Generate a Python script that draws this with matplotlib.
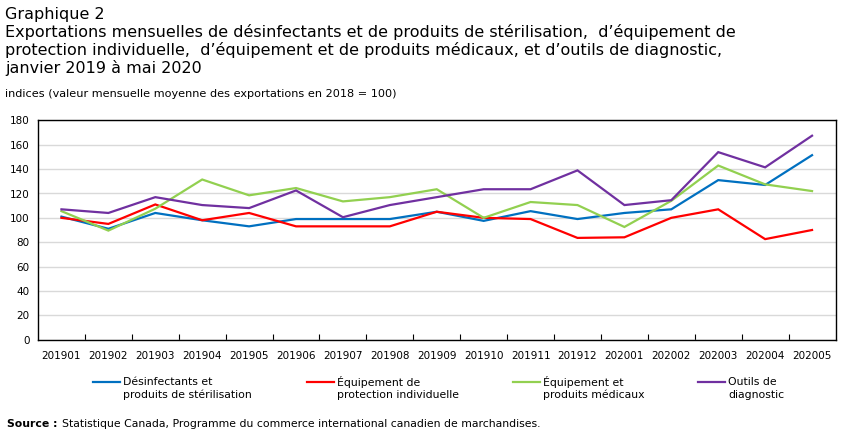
import matplotlib
matplotlib.use("Agg")
import matplotlib.pyplot as plt
from matplotlib.lines import Line2D
import numpy as np

plt.rcParams['font.family'] = ['DejaVu Sans']

months = ["201901", "201902", "201903", "201904", "201905", "201906", "201907", "201908",
          "201909", "201910", "201911", "201912", "202001", "202002", "202003", "202004", "202005"]

desinfectants = [101, 91, 104, 98, 93, 99, 99, 99, 105, 97.5, 105.5, 99, 104, 107, 131, 127, 151.5]
protection = [100, 95, 111, 98, 104, 93, 93, 93, 105, 100, 99, 83.5, 84, 100, 107, 82.5, 90]
medicaux = [105.5, 89.5, 107.5, 131.5, 118.5, 124.5, 113.5, 117, 123.5, 100, 113, 110.5, 92.5, 114, 143, 127.5, 122]
diagnostic = [107, 104, 117, 110.5, 108, 122.5, 100.5, 110.5, 117, 123.5, 123.5, 139, 110.5, 114.5, 154, 141.5, 167.5]

series_labels = ["Désinfectants et\nproduits de stérilisation",
                 "Équipement de\nprotection individuelle",
                 "Équipement et\nproduits médicaux",
                 "Outils de\ndiagnostic"]
colors = ["#0070C0", "#FF0000", "#92D050", "#7030A0"]
yticks = [0, 20, 40, 60, 80, 100, 120, 140, 160, 180]

W, H = 851, 436
fig = plt.figure(figsize=(W / 100, H / 100), dpi=100)
ax = fig.add_axes([38 / W, 1 - 339.5 / H, (835.5 - 38) / W, (339.5 - 120.5) / H])

x = np.arange(len(months))
for vals, c in zip([desinfectants, protection, medicaux, diagnostic], colors):
    ax.plot(x, vals, color=c, lw=1.6, solid_joinstyle='miter')

ax.set_xlim(-0.5, len(months) - 0.5)
ax.set_ylim(0, 180)
ax.set_yticks(yticks)
ax.set_yticklabels([str(v) for v in yticks], fontsize=7.5)
ax.tick_params(axis='y', length=0, pad=6)
ax.set_xticks(x)
ax.set_xticklabels(months, fontsize=7.5)
ax.tick_params(axis='x', which='major', length=0, pad=8)
ax.set_xticks(np.arange(0.5, len(months) - 1, 1), minor=True)
ax.tick_params(axis='x', which='minor', direction='in', length=4, width=0.8, color='black')
ax.grid(axis='y', color='#d9d9d9', lw=1)
ax.set_axisbelow(True)
for s in ax.spines.values():
    s.set_color('black')
    s.set_linewidth(1)

# Title
fig.text(5 / W, 1 - 15 / H, "Graphique 2", fontsize=11.5, va='center', ha='left')
fig.text(5 / W, 1 - 32 / H,
         "Exportations mensuelles de désinfectants et de produits de stérilisation,  d’équipement de",
         fontsize=11.5, va='center', ha='left')
fig.text(5 / W, 1 - 50 / H,
         "protection individuelle,  d’équipement et de produits médicaux, et d’outils de diagnostic,",
         fontsize=11.5, va='center', ha='left')
fig.text(5 / W, 1 - 68 / H, "janvier 2019 à mai 2020", fontsize=11.5, va='center', ha='left')
fig.text(5 / W, 1 - 94 / H, "indices (valeur mensuelle moyenne des exportations en 2018 = 100)",
         fontsize=8.1, va='center', ha='left')

# Legend (manual)
leg_x = [93, 307, 513, 698]
for lx, lab, c in zip(leg_x, series_labels, colors):
    fig.add_artist(Line2D([lx / W, (lx + 27) / W], [1 - 382 / H, 1 - 382 / H], color=c, lw=1.6))
    l1, l2 = lab.split("\n")
    fig.text((lx + 30) / W, 1 - 382 / H, l1, fontsize=7.8, va='center', ha='left')
    fig.text((lx + 30) / W, 1 - 395 / H, l2, fontsize=7.8, va='center', ha='left')

# Source
fig.text(7 / W, 1 - 424 / H, "Source :", fontsize=7.8, fontweight='bold', va='center', ha='left')
fig.text(62 / W, 1 - 424 / H, "Statistique Canada, Programme du commerce international canadien de marchandises.",
         fontsize=7.8, va='center', ha='left')

fig.savefig("out.png", dpi=100)
